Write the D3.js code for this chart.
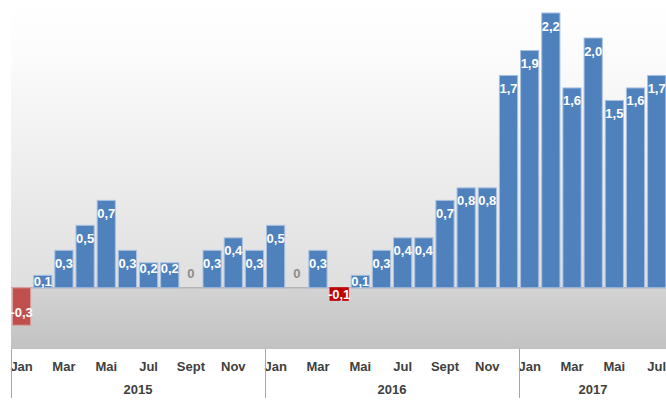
<!DOCTYPE html>
<html>
<head>
<meta charset="utf-8">
<script src="https://cdn.jsdelivr.net/npm/d3@7"></script>
<style>
  body { margin: 0; background: #fff; }
  text { font-family: "Liberation Sans", Arial, sans-serif; font-weight: bold; }
</style>
</head>
<body>
<div id="chart"></div>
<script>
var years = ['2015', '2016', '2017'];
var monthLabels = ['Jan', '', 'Mar', '', 'Mai', '', 'Jul', '', 'Sept', '', 'Nov', ''];
var values2015 = [-0.3, 0.1, 0.3, 0.5, 0.7, 0.3, 0.2, 0.2, 0, 0.3, 0.4, 0.3];
var values2016 = [0.5, 0, 0.3, -0.1, 0.1, 0.3, 0.4, 0.4, 0.7, 0.8, 0.8, 1.7];
var values2017 = [1.9, 2.2, 1.6, 2.0, 1.5, 1.6, 1.7];

var width = 666, height = 401;
var left = 11, plotBottom = 349;

var data = [];
[values2015, values2016, values2017].forEach(function(vals, yi) {
    vals.forEach(function(v, mi) {
        data.push({ key: years[yi] + '-' + mi, year: years[yi], month: mi, v: v });
    });
});

var svg = d3.select('#chart').append('svg')
            .attr('width', width)
            .attr('height', height);

var x = d3.scaleBand()
          .domain(data.map(function(d) { return d.key; }))
          .range([left, left + 31 * 21.17])
          .paddingInner(0.14)
          .paddingOuter(0.07);

var y = d3.scaleLinear()
          .domain([-0.49, 2.3])
          .range([plotBottom, 0.5]);

var zeroY = y(0);
var zeroFrac = zeroY / plotBottom;

// background gradient, darker step below zero
var grad = svg.append('defs').append('linearGradient')
              .attr('id', 'bg')
              .attr('x1', 0).attr('y1', 0).attr('x2', 0).attr('y2', 1);
[[0, '#ffffff'], [0.15, '#fcfcfc'], [zeroFrac, '#dfdfdf'], [zeroFrac, '#d3d3d3'], [1, '#c2c2c2']]
    .forEach(function(s) {
        grad.append('stop').attr('offset', s[0]).attr('stop-color', s[1]);
    });

svg.append('rect')
   .attr('x', left).attr('y', 0)
   .attr('width', width - left).attr('height', plotBottom)
   .style('fill', 'url(#bg)');

svg.append('line')
   .attr('x1', left).attr('x2', width)
   .attr('y1', zeroY).attr('y2', zeroY)
   .style('stroke', '#a6a6a6').style('stroke-width', 1);

function barColor(d) {
    if (d.v >= 0) return '#4f81bd';
    return d.v <= -0.2 ? '#c0504d' : '#c00000';
}

svg.selectAll('rect.bar')
   .data(data.filter(function(d) { return d.v !== 0; }))
   .enter()
   .append('rect')
   .attr('class', 'bar')
   .attr('x', function(d) { return x(d.key); })
   .attr('y', function(d) { return Math.min(y(d.v), zeroY); })
   .attr('width', x.bandwidth())
   .attr('height', function(d) { return Math.abs(y(d.v) - zeroY); })
   .style('fill', barColor)
   .style('stroke', function(d) { return d.v > 0 ? '#a9c1e0' : (d.v <= -0.2 ? '#dba3a1' : '#c00000'); })
   .style('stroke-width', 1);

function fmt(v) {
    if (v === 0) return '0';
    return d3.format('.1f')(v).replace('.', ',').replace('−', '-');
}

svg.selectAll('text.val')
   .data(data)
   .enter()
   .append('text')
   .attr('class', 'val')
   .attr('x', function(d) { return x(d.key) + x.bandwidth() / 2; })
   .attr('y', function(d) {
       var h = Math.abs(y(d.v) - zeroY);
       if (d.v === 0) return zeroY - 14;
       if (d.v > 0) return y(d.v) + (h >= 30 ? 13 : 6);
       return y(d.v) - (h >= 30 ? 13 : 6);
   })
   .attr('dy', '0.35em')
   .attr('text-anchor', 'middle')
   .style('font-size', '13px')
   .style('fill', function(d) { return d.v === 0 ? '#8c8c8c' : '#ffffff'; })
   .text(function(d) { return fmt(d.v); });

// category axis
svg.selectAll('text.month')
   .data(data.filter(function(d) { return monthLabels[d.month] !== ''; }))
   .enter()
   .append('text')
   .attr('class', 'month')
   .attr('x', function(d) { return x(d.key) + x.bandwidth() / 2; })
   .attr('y', 371)
   .attr('text-anchor', 'middle')
   .style('font-size', '13px')
   .style('fill', '#404040')
   .text(function(d) { return monthLabels[d.month]; });

var step = x.step();
var groups = years.map(function(yr) {
    var items = data.filter(function(d) { return d.year === yr; });
    var x0 = x(items[0].key) - step * x.paddingInner() / 2;
    var x1 = x(items[items.length - 1].key) + x.bandwidth() + step * x.paddingInner() / 2;
    return { year: yr, x0: x0, x1: x1 };
});
groups[0].x0 = left;
groups[groups.length - 1].x1 = width + 1;

svg.selectAll('line.sep')
   .data(groups.map(function(g) { return g.x0; }))
   .enter()
   .append('line')
   .attr('class', 'sep')
   .attr('x1', function(d) { return Math.round(d) + 0.5; })
   .attr('x2', function(d) { return Math.round(d) + 0.5; })
   .attr('y1', plotBottom)
   .attr('y2', 398)
   .style('stroke', '#a6a6a6')
   .style('stroke-width', 1);

svg.selectAll('text.year')
   .data(groups)
   .enter()
   .append('text')
   .attr('class', 'year')
   .attr('x', function(d) { return (d.x0 + d.x1) / 2; })
   .attr('y', 394)
   .attr('text-anchor', 'middle')
   .style('font-size', '13px')
   .style('fill', '#404040')
   .text(function(d) { return d.year; });
</script>
</body>
</html>
